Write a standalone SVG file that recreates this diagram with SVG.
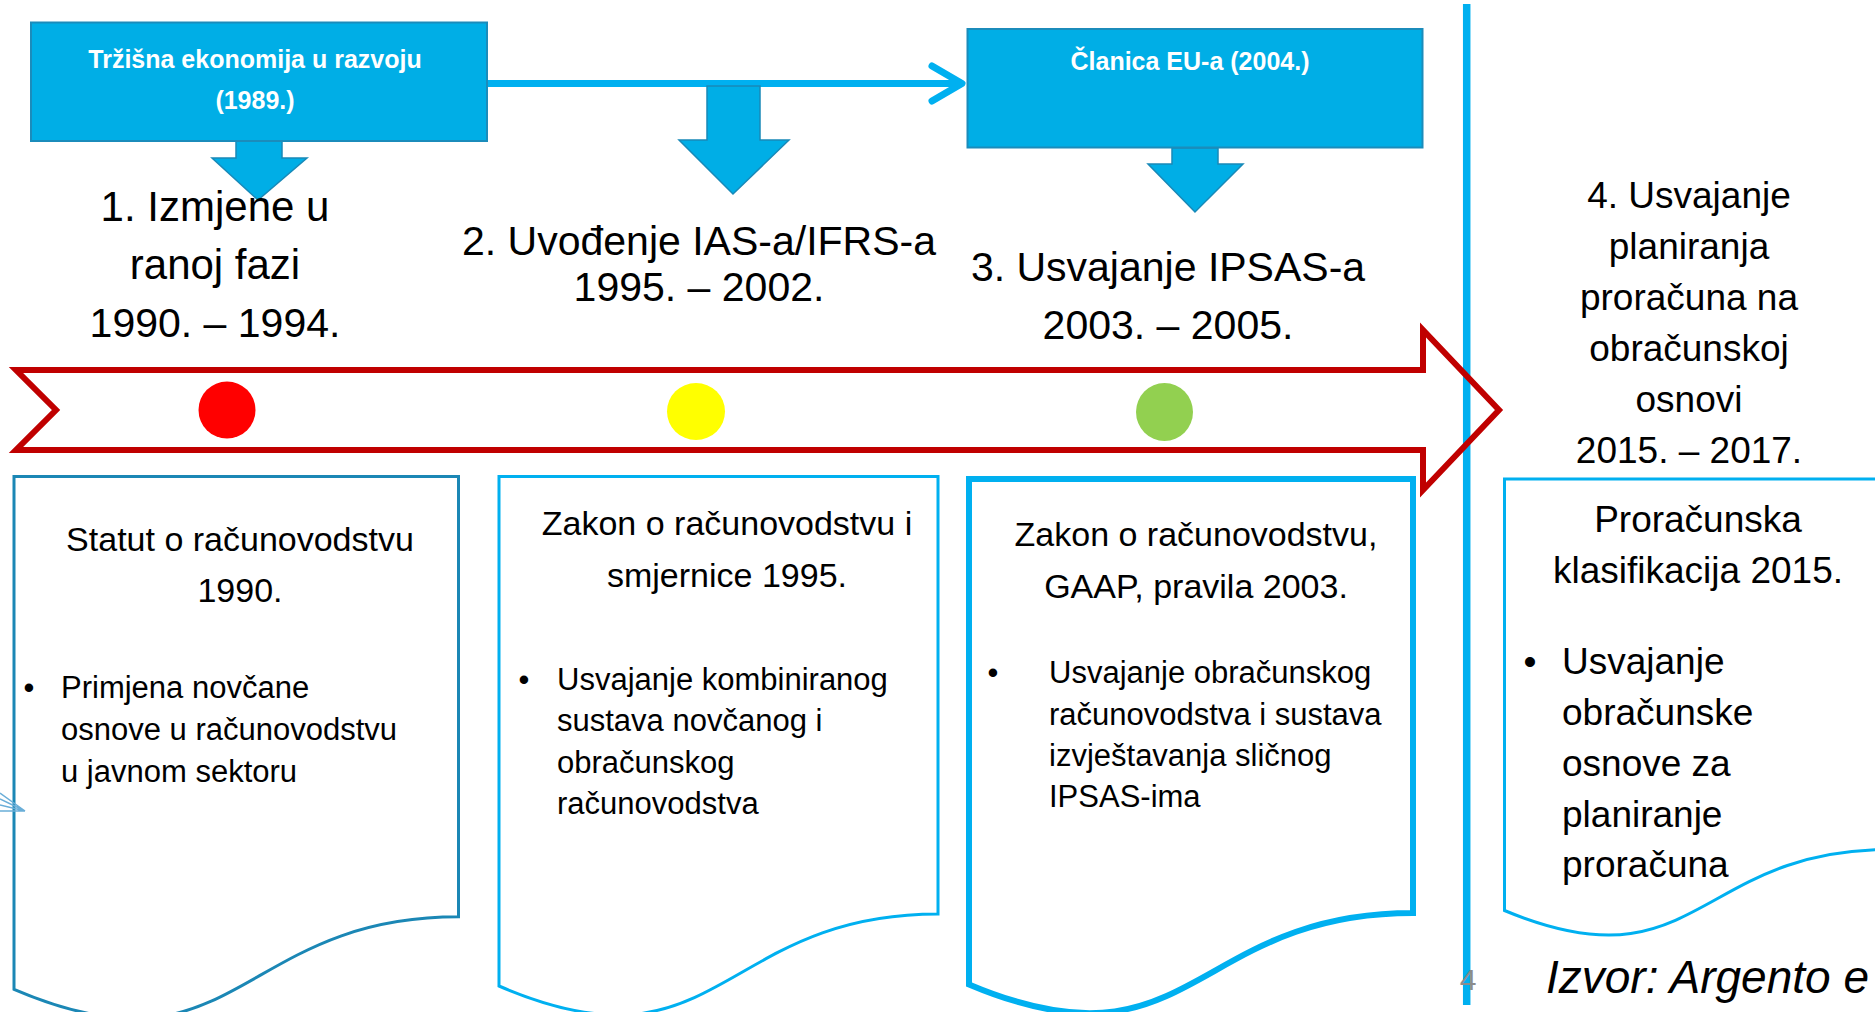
<svg xmlns="http://www.w3.org/2000/svg" width="1875" height="1012" viewBox="0 0 1875 1012">
<defs>
<style>
text{font-family:"Liberation Sans",Arial,sans-serif;fill:#000}
.lbl{font-weight:bold;font-size:25px;fill:#fff;text-anchor:middle}
.hd{font-size:41px;text-anchor:middle}
.hd1{font-size:42px;text-anchor:middle}
.hd4{font-size:37px;text-anchor:middle}
.bx{font-size:34px;text-anchor:middle}
.bl{font-size:31px}
.bd{font-size:37px}
.blue{fill:#00AEE6;stroke:#1B8CBB;stroke-width:2}
.barrow{fill:#00AEE6;stroke:#1889B8;stroke-width:1.5;stroke-linejoin:miter}
.doc{fill:#fff;stroke:#00B0F0;stroke-width:3}
</style>
<marker id="chev" markerUnits="userSpaceOnUse" markerWidth="50" markerHeight="50" viewBox="-40 -25 50 50" refX="0" refY="0" orient="auto">
<path d="M-30,-17.5 L0,0 L-30,17.5" fill="none" stroke="#00B0F0" stroke-width="7" stroke-linecap="round" stroke-linejoin="round"/>
</marker>
</defs>
<rect width="1875" height="1012" fill="#fff"/>

<g id="connectors">
<line x1="488" y1="83.5" x2="962" y2="83.5" stroke="#00B0F0" stroke-width="7" marker-end="url(#chev)"/>
<polygon class="barrow" points="236,141 282,141 282,158 307,158 258,200 212,158 236,158"/>
<polygon class="barrow" points="707,86 760,86 760,140 789,140 733,194 679,140 707,140"/>
<polygon class="barrow" points="1172,148 1218,148 1218,164 1243,164 1195,212 1148,164 1172,164"/>
</g>

<g id="node-trzisna">
<rect class="blue" x="31" y="22.5" width="456" height="118.5"/>
<text class="lbl" x="255" y="68">Tržišna ekonomija u razvoju</text>
<text class="lbl" x="255" y="109">(1989.)</text>
</g>

<g id="node-clanica">
<rect class="blue" x="967.5" y="29" width="455" height="118.5"/>
<text class="lbl" x="1190" y="69.5">Članica EU-a (2004.)</text>
</g>

<g id="divider">
<line x1="1466.7" y1="4" x2="1466.7" y2="1005" stroke="#00B0F0" stroke-width="7.5"/>
</g>

<g id="timeline">
<polygon points="16,370 1423,370 1423,330 1499,410 1423,490 1423,450 16,450 56,410" fill="none" stroke="#C00000" stroke-width="6" stroke-linejoin="miter"/>
<ellipse cx="227" cy="410" rx="28.5" ry="28.5" fill="#FF0000"/>
<ellipse cx="696" cy="411.5" rx="29" ry="28.5" fill="#FFFF00"/>
<ellipse cx="1164.5" cy="412" rx="28.5" ry="29" fill="#92D050"/>
</g>

<g id="phase1">
<text class="hd1" x="215" y="221">1. Izmjene u</text>
<text class="hd1" x="215" y="279">ranoj fazi</text>
<text class="hd" x="215" y="337">1990. – 1994.</text>
</g>
<g id="phase2">
<text class="hd" x="699" y="255">2. Uvođenje IAS-a/IFRS-a</text>
<text class="hd" x="699" y="301">1995. – 2002.</text>
</g>
<g id="phase3">
<text class="hd" x="1168" y="281">3. Usvajanje IPSAS-a</text>
<text class="hd" x="1168" y="339">2003. – 2005.</text>
</g>
<g id="phase4">
<text class="hd4" x="1689" y="208">4. Usvajanje</text>
<text class="hd4" x="1689" y="259">planiranja</text>
<text class="hd4" x="1689" y="310">proračuna na</text>
<text class="hd4" x="1689" y="361">obračunskoj</text>
<text class="hd4" x="1689" y="412">osnovi</text>
<text class="hd4" x="1689" y="463">2015. – 2017.</text>
</g>

<g id="doc-statut">
<path class="doc" style="stroke:#1B87B5" d="M14,476.5 H458.5 V916.8 C236.25,916.8 236.25,1084.5 14,989.3 Z"/>
<text class="bx" x="240" y="551">Statut o računovodstvu</text>
<text class="bx" x="240" y="602">1990.</text>
<text class="bl" x="29" y="698" text-anchor="middle">•</text>
<text class="bl" x="61" y="698">Primjena novčane</text>
<text class="bl" x="61" y="740">osnove u računovodstvu</text>
<text class="bl" x="61" y="782">u javnom sektoru</text>
</g>

<g id="doc-zakon1995">
<path class="doc" d="M499,476.5 H938 V914 C718.5,914 718.5,1080.6 499,986 Z"/>
<text class="bx" x="727" y="535">Zakon o računovodstvu i</text>
<text class="bx" x="727" y="587">smjernice 1995.</text>
<text class="bl" x="524" y="690" text-anchor="middle">•</text>
<text class="bl" x="557" y="690">Usvajanje kombiniranog</text>
<text class="bl" x="557" y="731">sustava novčanog i</text>
<text class="bl" x="557" y="773">obračunskog</text>
<text class="bl" x="557" y="814">računovodstva</text>
</g>

<g id="doc-zakon2003">
<path class="doc" style="stroke-width:6" d="M969,479 H1413 V913 C1191,913 1191,1078.3 969,984.4 Z"/>
<text class="bx" x="1196" y="546">Zakon o računovodstvu,</text>
<text class="bx" x="1196" y="597.5">GAAP, pravila 2003.</text>
<text class="bl" x="993" y="683" text-anchor="middle">•</text>
<text class="bl" x="1049" y="683">Usvajanje obračunskog</text>
<text class="bl" x="1049" y="724.5">računovodstva i sustava</text>
<text class="bl" x="1049" y="766">izvještavanja sličnog</text>
<text class="bl" x="1049" y="807">IPSAS-ima</text>
</g>

<g id="doc-proracunska">
<path class="doc" d="M1504.5,479 H1888.5 V849.5 C1696.5,849.5 1696.5,990.7 1504.5,910.5 Z"/>
<text class="bd" x="1698" y="532" text-anchor="middle">Proračunska</text>
<text class="bd" x="1698" y="582.5" text-anchor="middle">klasifikacija 2015.</text>
<text class="bd" x="1530" y="674" text-anchor="middle">•</text>
<text class="bd" x="1562" y="674">Usvajanje</text>
<text class="bd" x="1562" y="725">obračunske</text>
<text class="bd" x="1562" y="775.5">osnove za</text>
<text class="bd" x="1562" y="826.5">planiranje</text>
<text class="bd" x="1562" y="877">proračuna</text>
</g>

<path d="M0,793 L25,811 M0,799 L25,811 M0,805 L25,811 M0,811 L25,811" fill="none" stroke="#6AAED8" stroke-width="1.5"/>

<text x="1468" y="990" font-size="30" text-anchor="middle" style="fill:#8C8C8C">4</text>
<text x="1546" y="993" font-size="46" font-style="italic">Izvor: Argento e</text>
</svg>
